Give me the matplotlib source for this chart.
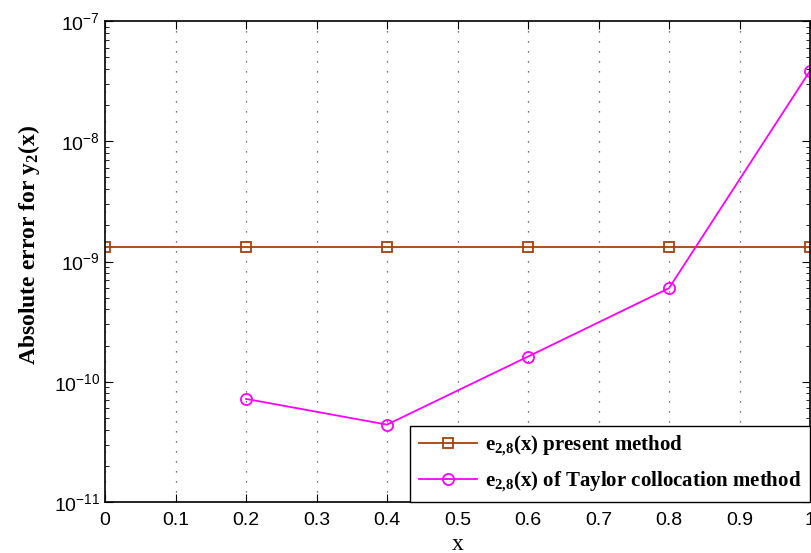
import matplotlib
matplotlib.use("Agg")
import matplotlib.pyplot as plt
from matplotlib.ticker import LogLocator, NullFormatter

x_present = [0, 0.2, 0.4, 0.6, 0.8, 1.0]
err_present = [1.33e-9, 1.33e-9, 1.33e-9, 1.33e-9, 1.33e-9, 1.33e-9]
x_taylor = [0.2, 0.4, 0.6, 0.8, 1.0]
err_taylor = [7.2e-11, 4.4e-11, 1.62e-10, 6.0e-10, 3.85e-8]
x_ticks = [0, 0.1, 0.2, 0.3, 0.4, 0.5, 0.6, 0.7, 0.8, 0.9, 1]
x_ticklabels = ["0", "0.1", "0.2", "0.3", "0.4", "0.5", "0.6", "0.7", "0.8", "0.9", "1"]

plt.rcParams['font.family'] = ['Liberation Sans', 'DejaVu Sans']
plt.rcParams['mathtext.fontset'] = 'custom'
plt.rcParams['mathtext.rm'] = 'Liberation Serif:bold'
plt.rcParams['mathtext.bf'] = 'Liberation Serif:bold'
plt.rcParams['mathtext.it'] = 'Liberation Serif:bold'

fig = plt.figure(figsize=(8.11, 5.53), dpi=100)
ax = fig.add_axes([105 / 811, 51 / 553, 705 / 811, 481 / 553])

ax.semilogy(x_present, err_present, '-s', color='#A5410F', lw=1.3, ms=7,
            mfc='none', mew=1.3, label=r'$\mathbf{e_{2{,}8}(x)}$ present method')
ax.semilogy(x_taylor, err_taylor, '-o', color='#FF00FF', lw=1.3, ms=8,
            mfc='none', mew=1.3, label=r'$\mathbf{e_{2{,}8}(x)}$ of Taylor collocation method')

ax.set_xlim(0, 1)
ax.set_ylim(1e-11, 1e-7)
ax.set_xticks(x_ticks)
ax.set_xticklabels(x_ticklabels)
ax.yaxis.set_major_locator(LogLocator(base=10, numticks=10))
ax.yaxis.set_minor_locator(LogLocator(base=10, subs=range(2, 10), numticks=10))
ax.yaxis.set_minor_formatter(NullFormatter())
ax.tick_params(which='both', direction='in', top=True, right=True, labelsize=14)
ax.tick_params(axis='x', pad=7)
ax.tick_params(which='major', length=6)
ax.tick_params(which='minor', length=3)
ax.grid(True, axis='x', linestyle=(0, (1, 7)), color='#444444', lw=0.9)
for s in ax.spines.values():
    s.set_linewidth(1.2)

ax.set_xlabel('x', family='Liberation Serif', fontsize=17, labelpad=4)
ax.set_ylabel(r'Absolute error for $\mathbf{y_2(x)}$', family='Liberation Serif',
              fontweight='bold', fontsize=17)
ax.yaxis.set_label_coords(-0.09, 0.535)

leg = ax.legend(loc='lower right', prop={'family': 'Liberation Serif', 'weight': 'bold', 'size': 15},
                handlelength=2.8, handletextpad=0.4, fancybox=False, edgecolor='black',
                framealpha=1, borderaxespad=0, labelspacing=0.55)
leg.get_frame().set_linewidth(1.0)

fig.savefig('out.png', dpi=100)
